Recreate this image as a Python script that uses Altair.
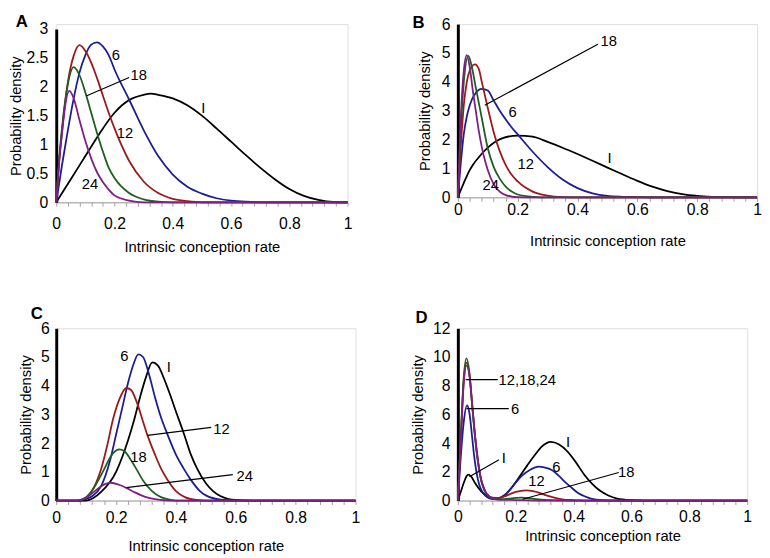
import altair as alt
import pandas as pd

FONT = "Liberation Sans"
COLORS = {"I": "#000000", "6": "#1c1c94", "12": "#9a1a1a", "18": "#1e5e1e", "24": "#7e1f80"}

# ---------------- Panel A ----------------
A_I_x = [0, 0.05, 0.1, 0.15, 0.2, 0.25, 0.3, 0.325, 0.35, 0.4, 0.45, 0.5, 0.55, 0.6, 0.65, 0.7, 0.75, 0.8, 0.85, 0.9, 0.95, 1.0]
A_I_y = [0, 0.4, 0.8, 1.2, 1.55, 1.77, 1.86, 1.88, 1.86, 1.8, 1.68, 1.5, 1.28, 1.05, 0.82, 0.6, 0.4, 0.23, 0.11, 0.04, 0.005, 0]
A_6_x = [0, 0.02, 0.04, 0.06, 0.08, 0.1, 0.12, 0.14, 0.16, 0.18, 0.2, 0.25, 0.3, 0.35, 0.4, 0.45, 0.5, 0.55, 0.6, 0.65, 0.7, 1.0]
A_6_y = [0, 0.65, 1.25, 1.8, 2.25, 2.55, 2.73, 2.77, 2.7, 2.55, 2.3, 1.78, 1.25, 0.8, 0.48, 0.27, 0.15, 0.07, 0.03, 0.01, 0, 0]
A_12_x = [0, 0.01, 0.02, 0.04, 0.06, 0.08, 0.1, 0.12, 0.14, 0.16, 0.18, 0.2, 0.25, 0.3, 0.35, 0.4, 0.45, 0.5, 1.0]
A_12_y = [0, 0.7, 1.23, 2.08, 2.54, 2.72, 2.62, 2.42, 2.15, 1.85, 1.55, 1.28, 0.72, 0.36, 0.16, 0.06, 0.02, 0, 0]
A_18_x = [0, 0.01, 0.02, 0.04, 0.06, 0.08, 0.1, 0.12, 0.14, 0.16, 0.18, 0.2, 0.25, 0.3, 0.35, 0.4, 1.0]
A_18_y = [0, 0.75, 1.3, 2.05, 2.34, 2.2, 1.9, 1.55, 1.2, 0.88, 0.6, 0.42, 0.16, 0.05, 0.01, 0, 0]
A_24_x = [0, 0.01, 0.02, 0.03, 0.045, 0.06, 0.08, 0.1, 0.12, 0.14, 0.16, 0.18, 0.2, 0.25, 0.3, 1.0]
A_24_y = [0, 0.7, 1.2, 1.65, 1.93, 1.8, 1.42, 1.06, 0.76, 0.52, 0.35, 0.22, 0.12, 0.03, 0, 0]
A_lab_text = ["6", "18", "I", "12", "24"]
A_lab_x = [0.205, 0.283, 0.505, 0.236, 0.116]
A_lab_y = [2.55, 2.2, 1.64, 1.2, 0.31]
A_lead = [(0.103, 1.84, 0.25, 2.16)]

# ---------------- Panel B ----------------
B_I_x = [0, 0.02, 0.035, 0.05, 0.075, 0.1, 0.15, 0.2, 0.25, 0.3, 0.35, 0.4, 0.45, 0.5, 0.55, 0.6, 0.65, 0.7, 0.75, 0.8, 0.85, 0.9, 1.0]
B_I_y = [0, 0.5, 0.85, 1.12, 1.45, 1.72, 2.05, 2.14, 2.1, 1.92, 1.72, 1.5, 1.27, 1.03, 0.8, 0.57, 0.37, 0.22, 0.11, 0.05, 0.02, 0.005, 0]
B_6_x = [0, 0.01, 0.02, 0.03, 0.04, 0.06, 0.08, 0.1, 0.12, 0.14, 0.16, 0.18, 0.2, 0.25, 0.3, 0.35, 0.4, 0.45, 0.5, 0.55, 0.6, 0.65, 1.0]
B_6_y = [0, 1.2, 2.2, 2.8, 3.2, 3.62, 3.76, 3.7, 3.35, 3.0, 2.7, 2.42, 2.18, 1.58, 1.05, 0.62, 0.32, 0.14, 0.05, 0.02, 0.01, 0, 0]
B_12_x = [0, 0.01, 0.02, 0.03, 0.04, 0.057, 0.07, 0.08, 0.1, 0.12, 0.14, 0.16, 0.18, 0.2, 0.25, 0.3, 0.35, 0.4, 1.0]
B_12_y = [0, 1.8, 3.2, 4.0, 4.4, 4.61, 4.45, 4.0, 3.1, 2.25, 1.6, 1.12, 0.78, 0.55, 0.2, 0.06, 0.01, 0, 0]
B_18_x = [0, 0.01, 0.02, 0.035, 0.045, 0.06, 0.08, 0.1, 0.12, 0.14, 0.16, 0.18, 0.2, 0.25, 0.3, 1.0]
B_18_y = [0, 2.4, 4.0, 4.9, 4.6, 3.8, 2.75, 1.7, 1.05, 0.65, 0.37, 0.2, 0.1, 0.02, 0, 0]
B_24_x = [0, 0.01, 0.02, 0.03, 0.04, 0.05, 0.06, 0.07, 0.08, 0.09, 0.1, 0.12, 0.14, 0.16, 0.18, 0.2, 0.25, 1.0]
B_24_y = [0, 2.8, 4.4, 4.93, 4.5, 3.7, 3.0, 2.3, 1.75, 1.3, 0.95, 0.45, 0.2, 0.08, 0.03, 0.01, 0, 0]
B_lab_text = ["18", "6", "12", "I", "24"]
B_lab_x = [0.504, 0.183, 0.227, 0.507, 0.11]
B_lab_y = [5.41, 2.96, 1.17, 1.37, 0.42]
B_lead = [(0.09, 3.19, 0.468, 5.3)]

# ---------------- Panel C ----------------
C_I_x = [0, 0.1, 0.15, 0.2, 0.22, 0.24, 0.26, 0.28, 0.3, 0.321, 0.34, 0.36, 0.38, 0.4, 0.425, 0.45, 0.47, 0.5, 0.524, 0.55, 0.6, 0.65, 1.0]
C_I_y = [0, 0, 0.3, 1.0, 1.5, 2.1, 2.8, 3.6, 4.3, 4.81, 4.7, 4.25, 3.7, 3.1, 2.38, 1.6, 1.13, 0.6, 0.33, 0.15, 0.02, 0, 0]
C_6_x = [0, 0.08, 0.1, 0.12, 0.15, 0.18, 0.2, 0.22, 0.24, 0.26, 0.274, 0.29, 0.31, 0.33, 0.35, 0.37, 0.4, 0.425, 0.45, 0.48, 0.5, 0.55, 0.6, 1.0]
C_6_y = [0, 0, 0.05, 0.15, 0.5, 1.4, 2.3, 3.2, 4.1, 4.8, 5.09, 5.0, 4.4, 3.6, 2.9, 2.35, 1.6, 1.13, 0.72, 0.33, 0.18, 0.03, 0, 0]
C_12_x = [0, 0.07, 0.1, 0.12, 0.15, 0.17, 0.19, 0.21, 0.234, 0.25, 0.27, 0.29, 0.305, 0.33, 0.35, 0.37, 0.4, 0.43, 0.47, 0.5, 1.0]
C_12_y = [0, 0, 0.12, 0.35, 1.1, 1.9, 2.84, 3.5, 3.92, 3.85, 3.4, 2.75, 2.27, 1.6, 1.12, 0.75, 0.33, 0.12, 0.02, 0, 0]
C_18_x = [0, 0.07, 0.1, 0.12, 0.14, 0.162, 0.18, 0.2, 0.212, 0.23, 0.25, 0.266, 0.29, 0.32, 0.35, 0.38, 0.4, 1.0]
C_18_y = [0, 0, 0.1, 0.35, 0.7, 1.13, 1.5, 1.74, 1.78, 1.7, 1.4, 1.13, 0.7, 0.33, 0.12, 0.03, 0, 0]
C_24_x = [0, 0.07, 0.08, 0.1, 0.12, 0.15, 0.182, 0.21, 0.234, 0.26, 0.3, 0.33, 0.36, 0.4, 1.0]
C_24_y = [0, 0, 0.02, 0.1, 0.25, 0.5, 0.62, 0.55, 0.44, 0.3, 0.12, 0.05, 0.01, 0, 0]
C_lab_text = ["6", "I", "12", "18", "24"]
C_lab_x = [0.228, 0.376, 0.552, 0.275, 0.63]
C_lab_y = [5.04, 4.65, 2.5, 1.51, 0.85]
C_lead = [(0.305, 2.27, 0.518, 2.55), (0.234, 0.45, 0.59, 0.9)]

# ---------------- Panel D ----------------
D_I_x = [0, 0.01, 0.02, 0.03, 0.036, 0.045, 0.06, 0.08, 0.1, 0.12, 0.14, 0.16, 0.18, 0.21, 0.24, 0.266, 0.29, 0.321, 0.35, 0.38, 0.41, 0.437, 0.465, 0.493, 0.52, 0.55, 0.6, 0.65, 1.0]
D_I_y = [0, 0.6, 1.2, 1.7, 1.8, 1.7, 1.2, 0.65, 0.3, 0.15, 0.15, 0.35, 0.75, 1.57, 2.45, 3.17, 3.75, 4.08, 3.9, 3.39, 2.6, 1.8, 1.15, 0.66, 0.35, 0.14, 0.03, 0, 0]
D_6_x = [0, 0.01, 0.02, 0.032, 0.04, 0.05, 0.057, 0.065, 0.074, 0.085, 0.096, 0.11, 0.12, 0.14, 0.16, 0.18, 0.2, 0.22, 0.25, 0.28, 0.3, 0.323, 0.35, 0.368, 0.39, 0.414, 0.44, 0.46, 0.5, 0.55, 1.0]
D_6_y = [0, 3.0, 5.4, 6.63, 6.1, 4.3, 3.0, 1.9, 1.1, 0.6, 0.32, 0.15, 0.1, 0.15, 0.35, 0.75, 1.25, 1.7, 2.15, 2.37, 2.3, 2.14, 1.7, 1.34, 0.95, 0.55, 0.28, 0.14, 0.03, 0, 0]
D_12_x = [0, 0.01, 0.02, 0.03, 0.04, 0.05, 0.06, 0.07, 0.08, 0.09, 0.1, 0.12, 0.14, 0.16, 0.18, 0.2, 0.235, 0.26, 0.28, 0.3, 0.33, 0.36, 0.4, 0.45, 1.0]
D_12_y = [0, 4.2, 8.2, 9.6, 8.8, 6.6, 4.4, 2.7, 1.5, 0.85, 0.45, 0.2, 0.18, 0.28, 0.45, 0.6, 0.71, 0.66, 0.55, 0.4, 0.22, 0.09, 0.03, 0, 0]
D_18_x = [0, 0.01, 0.02, 0.03, 0.04, 0.05, 0.06, 0.07, 0.08, 0.09, 0.1, 0.12, 0.14, 0.16, 0.2, 0.22, 0.25, 0.3, 0.35, 0.4, 1.0]
D_18_y = [0, 4.4, 8.5, 9.9, 8.9, 6.5, 4.3, 2.6, 1.45, 0.8, 0.45, 0.15, 0.08, 0.1, 0.18, 0.2, 0.15, 0.05, 0.01, 0, 0]
D_24_x = [0, 0.01, 0.02, 0.03, 0.04, 0.05, 0.06, 0.07, 0.08, 0.09, 0.1, 0.12, 0.14, 0.18, 0.22, 0.3, 1.0]
D_24_y = [0, 4.0, 8.1, 9.4, 8.7, 6.6, 4.4, 2.7, 1.5, 0.85, 0.45, 0.15, 0.06, 0.04, 0.03, 0, 0]
D_lab_text = ["12,18,24", "6", "I", "I", "6", "12", "18"]
D_lab_x = [0.24, 0.198, 0.159, 0.381, 0.34, 0.272, 0.582]
D_lab_y = [8.4, 6.37, 2.95, 4.07, 2.33, 1.33, 1.98]
D_lead = [(0.027, 8.42, 0.138, 8.42), (0.03, 6.4, 0.176, 6.4), (0.04, 1.66, 0.142, 2.84), (0.224, 0.09, 0.556, 1.95)]

X_TICKS = [round(i * 0.04, 2) for i in range(26)]


def panel(letter, curves, lab_t, lab_x, lab_y, leads, ymax, ystep, w, h, top_off,
          xlp, xty, ylp, ytx, let_x, let_y):
    yvals = [round(i * ystep, 2) for i in range(int(round(ymax / ystep)) + 1)]
    if top_off:
        yscale = alt.Scale(domain=[0, ymax], nice=False, zero=True, range=[h, top_off])
    else:
        yscale = alt.Scale(domain=[0, ymax], nice=False, zero=True)
    X = alt.X("x:Q", scale=alt.Scale(domain=[0, 1], nice=False),
              axis=alt.Axis(values=X_TICKS, title="Intrinsic conception rate",
                            labelExpr="abs(datum.value*5 - round(datum.value*5)) < 0.001 ? format(datum.value, '~g') : ''",
                            labelOverlap=False, grid=False, domainColor="#a0a0a0", tickColor="#a0a0a0",
                            tickSize=4, labelPadding=xlp, titleY=xty, titleBaseline="top",
                            labelFontSize=16, titleFontSize=15, titleFontWeight="normal",
                            labelColor="black", titleColor="black", labelFont=FONT, titleFont=FONT,
                            labelFlush=False))
    Y = alt.Y("y:Q", scale=yscale,
              axis=alt.Axis(values=yvals, format="~g", title="Probability density", grid=False,
                            ticks=False, tickSize=0, domainColor="black", domainWidth=3,
                            labelPadding=ylp, titleX=ytx, labelFontSize=16,
                            titleFontSize=15, titleFontWeight="normal", labelColor="black",
                            titleColor="black", labelFont=FONT, titleFont=FONT))
    layers = []
    for name, xs, ys in curves:
        df = pd.DataFrame({"x": xs, "y": ys})
        layers.append(alt.Chart(df).mark_line(color=COLORS[name], strokeWidth=1.8,
                                              interpolate="monotone").encode(x=X, y=Y))
    ld = pd.DataFrame(leads, columns=["x", "y", "x2", "y2"])
    layers.append(alt.Chart(ld).mark_rule(color="black", strokeWidth=1.2).encode(
        x=X, y=Y, x2="x2:Q", y2="y2:Q"))
    td = pd.DataFrame({"x": lab_x, "y": lab_y, "t": lab_t})
    layers.append(alt.Chart(td).mark_text(font=FONT, fontSize=15, color="black",
                                          align="center", baseline="middle").encode(
        x=X, y=Y, text="t:N"))
    ltr = pd.DataFrame({"t": [letter]})
    layers.append(alt.Chart(ltr).mark_text(font=FONT, fontSize=17, fontWeight="bold", color="black",
                                           align="left", baseline="top").encode(
        text="t:N", x=alt.value(let_x), y=alt.value(let_y)))
    return alt.layer(*layers).properties(width=w, height=h)


pA = panel("A", [("I", A_I_x, A_I_y), ("6", A_6_x, A_6_y), ("12", A_12_x, A_12_y),
                 ("18", A_18_x, A_18_y), ("24", A_24_x, A_24_y)],
           A_lab_text, A_lab_x, A_lab_y, A_lead, 3, 0.5, 296, 181, 5,
           9.3, 38.5, 8.5, -33, -41, -10)
pB = panel("B", [("I", B_I_x, B_I_y), ("6", B_6_x, B_6_y), ("12", B_12_x, B_12_y),
                 ("18", B_18_x, B_18_y), ("24", B_24_x, B_24_y)],
           B_lab_text, B_lab_x, B_lab_y, B_lead, 6, 1, 304, 176, 0,
           0.5, 37, 8, -25.5, -46, -9)
pC = panel("C", [("I", C_I_x, C_I_y), ("6", C_6_x, C_6_y), ("12", C_12_x, C_12_y),
                 ("18", C_18_x, C_18_y), ("24", C_24_x, C_24_y)],
           C_lab_text, C_lab_x, C_lab_y, C_lead, 6, 1, 304, 175, 0,
           5.7, 39, 7, -23.5, -26, -22)
pD = panel("D", [("I", D_I_x, D_I_y), ("6", D_6_x, D_6_y), ("12", D_12_x, D_12_y),
                 ("18", D_18_x, D_18_y), ("24", D_24_x, D_24_y)],
           D_lab_text, D_lab_x, D_lab_y, D_lead, 12, 2, 294, 175, 0,
           4.5, 29, 8, -32.5, -43, -18)

chart = alt.concat(pA, pB, pC, pD, columns=2, spacing={"row": 128, "column": 104},
                   bounds="flush").properties(padding=0).configure_view(stroke=None).configure(font=FONT)

chart.save("out.html", embed_options={"renderer": "svg", "actions": False})
